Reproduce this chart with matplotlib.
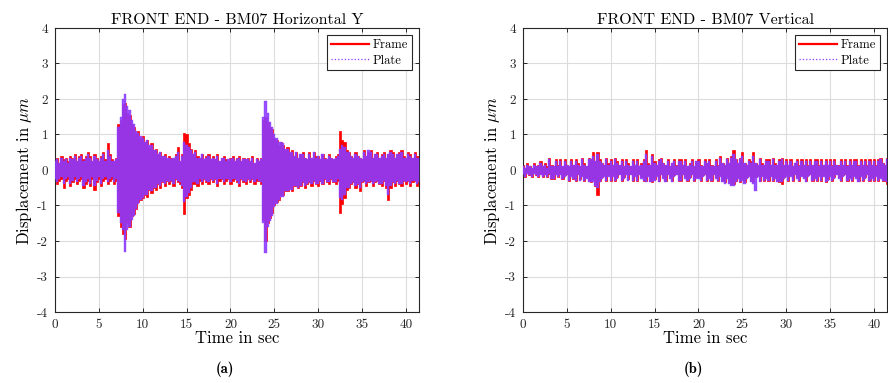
import numpy as np
import matplotlib
matplotlib.use("Agg")
import matplotlib.pyplot as plt
from matplotlib.lines import Line2D

plt.rcParams["font.family"] = "serif"
plt.rcParams["font.serif"] = ["cmr10", "DejaVu Serif"]
plt.rcParams["mathtext.fontset"] = "cm"
plt.rcParams["axes.unicode_minus"] = False
plt.rcParams["axes.formatter.use_mathtext"] = False

# envelope of the dense signal, every 0.25 s
dt = 0.25

# (a) Horizontal Y
frame_a_top = [
    0.3, 0.35, 0.2, 0.4, 0.3, 0.35, 0.25, 0.4,
    0.35, 0.45, 0.25, 0.4, 0.45, 0.3, 0.4, 0.5,
    0.4, 0.25, 0.45, 0.35, 0.25, 0.4, 0.5, 0.3,
    0.75, 0.45, 0.3, 0.25, 0.35, 1.3, 1.4, 1.85,
    1.9, 1.6, 1.55, 1.3, 1.2, 1.05, 1.1, 0.9,
    0.95, 0.8, 0.85, 0.65, 0.75, 0.55, 0.6, 0.45,
    0.5, 0.4, 0.45, 0.3, 0.4, 0.35, 0.3, 0.45,
    0.65, 0.25, 0.45, 1.05, 1.0, 0.75, 0.6, 0.45,
    0.55, 0.4, 0.35, 0.45, 0.3, 0.4, 0.45, 0.3,
    0.4, 0.3, 0.45, 0.25, 0.35, 0.4, 0.3, 0.25,
    0.35, 0.4, 0.25, 0.35, 0.4, 0.25, 0.35, 0.3,
    0.35, 0.25, 0.4, 0.2, 0.35, 0.25, 0.35, 1.4,
    1.5, 1.35, 1.2, 1.15, 0.9, 0.85, 0.7, 0.8,
    0.7, 0.55, 0.65, 0.5, 0.55, 0.4, 0.5, 0.35,
    0.45, 0.5, 0.35, 0.3, 0.5, 0.35, 0.5, 0.4,
    0.4, 0.3, 0.45, 0.35, 0.3, 0.45, 0.35, 0.3,
    0.4, 0.45, 1.1, 0.85, 0.8, 0.55, 0.5, 0.4,
    0.35, 0.5, 0.4, 0.35, 0.3, 0.55, 0.4, 0.5,
    0.55, 0.35, 0.45, 0.5, 0.35, 0.45, 0.5, 0.35,
    0.45, 0.55, 0.5, 0.35, 0.45, 0.5, 0.55, 0.4,
    0.35, 0.5, 0.45, 0.35, 0.5, 0.4, 0.4,
]
frame_a_bot = [
    -0.3, -0.4, -0.3, -0.25, -0.5, -0.3, -0.25, -0.45,
    -0.35, -0.25, -0.4, -0.3, -0.25, -0.5, -0.4, -0.3,
    -0.45, -0.25, -0.55, -0.35, -0.25, -0.45, -0.3, -0.25,
    -0.4, -0.3, -0.25, -0.4, -0.3, -1.3, -1.6, -1.8,
    -1.95, -1.5, -1.6, -1.3, -1.25, -1.1, -0.9, -0.85,
    -0.8, -0.7, -0.75, -0.55, -0.65, -0.5, -0.55, -0.4,
    -0.5, -0.35, -0.45, -0.3, -0.4, -0.3, -0.45, -0.25,
    -0.35, -0.4, -0.5, -1.25, -0.8, -0.7, -0.55, -0.4,
    -0.4, -0.45, -0.3, -0.4, -0.25, -0.35, -0.4, -0.25,
    -0.35, -0.25, -0.45, -0.3, -0.25, -0.4, -0.3, -0.25,
    -0.4, -0.3, -0.25, -0.35, -0.45, -0.25, -0.35, -0.4,
    -0.25, -0.35, -0.25, -0.4, -0.3, -0.3, -0.4, -1.4,
    -2.0, -1.5, -1.35, -1.2, -1.0, -0.9, -0.85, -0.7,
    -0.7, -0.6, -0.6, -0.5, -0.6, -0.45, -0.45, -0.5,
    -0.45, -0.35, -0.5, -0.4, -0.35, -0.45, -0.3, -0.4,
    -0.45, -0.3, -0.4, -0.25, -0.35, -0.4, -0.25, -0.35,
    -0.4, -0.3, -1.2, -0.95, -0.8, -0.55, -0.5, -0.4,
    -0.35, -0.5, -0.4, -0.6, -0.35, -0.3, -0.45, -0.35,
    -0.3, -0.45, -0.35, -0.3, -0.4, -0.45, -0.3, -0.5,
    -0.85, -0.5, -0.35, -0.45, -0.3, -0.4, -0.45, -0.3,
    -0.4, -0.3, -0.45, -0.35, -0.3, -0.45, -0.4,
]
plate_a_top = [
    0.25, 0.3, 0.2, 0.35, 0.25, 0.3, 0.2, 0.35,
    0.3, 0.4, 0.25, 0.35, 0.4, 0.25, 0.35, 0.45,
    0.35, 0.25, 0.4, 0.3, 0.25, 0.35, 0.45, 0.25,
    0.55, 0.4, 0.25, 0.25, 0.3, 1.2, 1.5, 2.0,
    2.15, 1.8, 1.7, 1.4, 1.3, 1.1, 1.05, 0.95,
    0.9, 0.8, 0.85, 0.7, 0.7, 0.55, 0.55, 0.45,
    0.5, 0.4, 0.4, 0.35, 0.35, 0.3, 0.35, 0.4,
    0.5, 0.25, 0.4, 0.8, 0.7, 0.65, 0.55, 0.45,
    0.5, 0.35, 0.35, 0.45, 0.3, 0.35, 0.4, 0.3,
    0.35, 0.3, 0.4, 0.25, 0.35, 0.35, 0.25, 0.3,
    0.3, 0.35, 0.25, 0.3, 0.35, 0.25, 0.3, 0.3,
    0.3, 0.25, 0.35, 0.2, 0.3, 0.25, 0.3, 1.5,
    1.95, 1.6, 1.35, 1.2, 1.0, 0.9, 0.8, 0.8,
    0.75, 0.6, 0.6, 0.5, 0.5, 0.4, 0.5, 0.35,
    0.45, 0.45, 0.35, 0.3, 0.45, 0.35, 0.5, 0.35,
    0.4, 0.3, 0.45, 0.3, 0.3, 0.4, 0.35, 0.3,
    0.35, 0.4, 0.6, 0.7, 0.65, 0.5, 0.5, 0.4,
    0.35, 0.45, 0.4, 0.35, 0.3, 0.5, 0.4, 0.55,
    0.5, 0.35, 0.45, 0.45, 0.35, 0.4, 0.45, 0.35,
    0.45, 0.5, 0.45, 0.35, 0.45, 0.45, 0.5, 0.35,
    0.35, 0.45, 0.4, 0.35, 0.45, 0.35, 0.35,
]
plate_a_bot = [
    -0.25, -0.35, -0.25, -0.2, -0.4, -0.25, -0.2, -0.4,
    -0.3, -0.2, -0.35, -0.25, -0.2, -0.45, -0.35, -0.25,
    -0.4, -0.2, -0.45, -0.3, -0.2, -0.4, -0.25, -0.2,
    -0.35, -0.25, -0.2, -0.35, -0.25, -1.2, -1.5, -1.7,
    -2.3, -1.7, -1.6, -1.4, -1.3, -1.1, -0.95, -0.85,
    -0.8, -0.7, -0.7, -0.55, -0.6, -0.5, -0.5, -0.4,
    -0.45, -0.35, -0.4, -0.3, -0.35, -0.3, -0.4, -0.25,
    -0.3, -0.35, -0.45, -0.9, -0.75, -0.65, -0.5, -0.35,
    -0.35, -0.4, -0.25, -0.35, -0.25, -0.3, -0.35, -0.25,
    -0.3, -0.25, -0.4, -0.25, -0.25, -0.35, -0.25, -0.25,
    -0.35, -0.25, -0.25, -0.3, -0.4, -0.25, -0.3, -0.35,
    -0.25, -0.3, -0.25, -0.35, -0.25, -0.3, -0.35, -1.5,
    -2.35, -1.6, -1.45, -1.3, -1.05, -0.95, -0.85, -0.75,
    -0.75, -0.6, -0.6, -0.55, -0.55, -0.45, -0.45, -0.5,
    -0.45, -0.35, -0.45, -0.4, -0.35, -0.4, -0.3, -0.4,
    -0.4, -0.3, -0.4, -0.25, -0.35, -0.35, -0.25, -0.35,
    -0.35, -0.25, -0.8, -0.85, -0.7, -0.5, -0.5, -0.4,
    -0.35, -0.45, -0.4, -0.5, -0.35, -0.3, -0.4, -0.35,
    -0.3, -0.4, -0.35, -0.3, -0.4, -0.4, -0.3, -0.45,
    -0.7, -0.45, -0.35, -0.4, -0.3, -0.4, -0.4, -0.3,
    -0.35, -0.3, -0.4, -0.3, -0.3, -0.4, -0.35,
]

# (b) Vertical
frame_b_top = [
    0.15, 0.05, 0.2, 0.1, 0.05, 0.2, 0.1, 0.15,
    0.25, 0.1, 0.2, 0.1, 0.35, 0.15, 0.1, 0.3,
    0.15, 0.3, 0.1, 0.3, 0.15, 0.1, 0.3, 0.15,
    0.3, 0.2, 0.1, 0.35, 0.2, 0.1, 0.35, 0.3,
    0.5, 0.25, 0.5, 0.3, 0.2, 0.15, 0.35, 0.2,
    0.3, 0.15, 0.35, 0.25, 0.15, 0.3, 0.1, 0.3,
    0.2, 0.1, 0.3, 0.15, 0.3, 0.1, 0.2, 0.3,
    0.55, 0.2, 0.15, 0.45, 0.25, 0.15, 0.3, 0.35,
    0.2, 0.15, 0.3, 0.1, 0.2, 0.3, 0.15, 0.3,
    0.3, 0.15, 0.3, 0.1, 0.2, 0.3, 0.1, 0.25,
    0.3, 0.15, 0.1, 0.3, 0.2, 0.3, 0.15, 0.1,
    0.3, 0.15, 0.4, 0.2, 0.15, 0.35, 0.2, 0.4,
    0.55, 0.3, 0.2, 0.35, 0.5, 0.2, 0.15, 0.3,
    0.25, 0.5, 0.2, 0.15, 0.35, 0.2, 0.15, 0.3,
    0.3, 0.15, 0.35, 0.2, 0.15, 0.3, 0.35, 0.15,
    0.3, 0.15, 0.3, 0.1, 0.2, 0.3, 0.15, 0.3,
    0.15, 0.3, 0.15, 0.3, 0.15, 0.3, 0.3, 0.15,
    0.3, 0.15, 0.3, 0.15, 0.3, 0.15, 0.3, 0.15,
    0.15, 0.3, 0.15, 0.3, 0.15, 0.3, 0.15, 0.3,
    0.3, 0.15, 0.3, 0.15, 0.3, 0.15, 0.3, 0.15,
    0.3, 0.15, 0.3, 0.35, 0.2, 0.15, 0.35,
]
frame_b_bot = [
    -0.1, -0.2, -0.05, -0.15, -0.2, -0.05, -0.15, -0.2,
    -0.1, -0.2, -0.1, -0.2, -0.1, -0.25, -0.25, -0.1,
    -0.2, -0.1, -0.25, -0.15, -0.1, -0.3, -0.15, -0.25,
    -0.3, -0.1, -0.25, -0.15, -0.3, -0.2, -0.3, -0.35,
    -0.25, -0.45, -0.7, -0.3, -0.2, -0.15, -0.3, -0.15,
    -0.3, -0.15, -0.3, -0.2, -0.1, -0.3, -0.2, -0.1,
    -0.25, -0.1, -0.3, -0.15, -0.3, -0.1, -0.2, -0.3,
    -0.3, -0.15, -0.3, -0.35, -0.25, -0.15, -0.3, -0.1,
    -0.2, -0.3, -0.1, -0.2, -0.3, -0.15, -0.1, -0.3,
    -0.3, -0.1, -0.2, -0.3, -0.2, -0.1, -0.3, -0.2,
    -0.2, -0.3, -0.15, -0.1, -0.3, -0.2, -0.3, -0.1,
    -0.2, -0.3, -0.15, -0.3, -0.35, -0.2, -0.35, -0.4,
    -0.4, -0.3, -0.2, -0.35, -0.25, -0.35, -0.2, -0.15,
    -0.3, -0.35, -0.2, -0.15, -0.3, -0.15, -0.3, -0.2,
    -0.3, -0.15, -0.3, -0.2, -0.3, -0.35, -0.4, -0.2,
    -0.15, -0.3, -0.15, -0.3, -0.1, -0.2, -0.3, -0.15,
    -0.2, -0.3, -0.15, -0.1, -0.3, -0.2, -0.3, -0.15,
    -0.3, -0.15, -0.35, -0.25, -0.15, -0.3, -0.2, -0.1,
    -0.2, -0.3, -0.15, -0.1, -0.3, -0.2, -0.3, -0.15,
    -0.2, -0.3, -0.15, -0.3, -0.2, -0.1, -0.3, -0.2,
    -0.3, -0.15, -0.3, -0.2, -0.3, -0.3, -0.4,
]
plate_b_top = [
    0.1, 0.05, 0.15, 0.1, 0.05, 0.15, 0.1, 0.1,
    0.2, 0.1, 0.15, 0.05, 0.3, 0.1, 0.1, 0.25,
    0.1, 0.25, 0.1, 0.25, 0.15, 0.1, 0.25, 0.15,
    0.25, 0.15, 0.1, 0.3, 0.15, 0.1, 0.3, 0.3,
    0.4, 0.25, 0.45, 0.25, 0.2, 0.15, 0.3, 0.15,
    0.25, 0.15, 0.3, 0.2, 0.15, 0.25, 0.1, 0.25,
    0.15, 0.1, 0.25, 0.15, 0.25, 0.1, 0.15, 0.25,
    0.45, 0.15, 0.15, 0.4, 0.2, 0.15, 0.25, 0.3,
    0.2, 0.15, 0.25, 0.1, 0.2, 0.25, 0.1, 0.25,
    0.25, 0.15, 0.25, 0.1, 0.15, 0.25, 0.1, 0.25,
    0.25, 0.1, 0.1, 0.25, 0.2, 0.25, 0.1, 0.1,
    0.25, 0.1, 0.35, 0.2, 0.15, 0.3, 0.2, 0.35,
    0.45, 0.3, 0.2, 0.3, 0.4, 0.2, 0.15, 0.25,
    0.2, 0.4, 0.2, 0.15, 0.3, 0.15, 0.15, 0.25,
    0.25, 0.15, 0.3, 0.15, 0.15, 0.25, 0.3, 0.15,
    0.25, 0.15, 0.25, 0.1, 0.2, 0.25, 0.1, 0.25,
    0.15, 0.25, 0.1, 0.25, 0.15, 0.25, 0.25, 0.1,
    0.25, 0.15, 0.25, 0.15, 0.25, 0.1, 0.25, 0.15,
    0.1, 0.25, 0.15, 0.25, 0.1, 0.25, 0.15, 0.25,
    0.25, 0.1, 0.25, 0.15, 0.25, 0.1, 0.25, 0.15,
    0.25, 0.1, 0.25, 0.3, 0.2, 0.15, 0.3,
]
plate_b_bot = [
    -0.1, -0.2, -0.1, -0.15, -0.2, -0.1, -0.15, -0.2,
    -0.15, -0.2, -0.15, -0.2, -0.1, -0.25, -0.25, -0.15,
    -0.2, -0.15, -0.25, -0.2, -0.15, -0.3, -0.2, -0.25,
    -0.3, -0.15, -0.3, -0.2, -0.3, -0.25, -0.35, -0.35,
    -0.35, -0.45, -0.5, -0.35, -0.25, -0.2, -0.3, -0.2,
    -0.3, -0.2, -0.3, -0.25, -0.15, -0.3, -0.25, -0.15,
    -0.3, -0.15, -0.3, -0.2, -0.3, -0.15, -0.25, -0.3,
    -0.35, -0.2, -0.35, -0.35, -0.3, -0.2, -0.35, -0.15,
    -0.25, -0.35, -0.15, -0.25, -0.35, -0.2, -0.15, -0.3,
    -0.3, -0.15, -0.25, -0.3, -0.25, -0.15, -0.3, -0.25,
    -0.25, -0.3, -0.2, -0.15, -0.3, -0.25, -0.3, -0.15,
    -0.25, -0.3, -0.2, -0.35, -0.4, -0.25, -0.4, -0.45,
    -0.45, -0.35, -0.25, -0.35, -0.3, -0.4, -0.25, -0.2,
    -0.35, -0.4, -0.6, -0.2, -0.35, -0.2, -0.3, -0.25,
    -0.3, -0.2, -0.3, -0.25, -0.35, -0.35, -0.35, -0.25,
    -0.2, -0.3, -0.2, -0.3, -0.15, -0.25, -0.3, -0.2,
    -0.25, -0.35, -0.2, -0.15, -0.3, -0.25, -0.3, -0.2,
    -0.3, -0.2, -0.35, -0.3, -0.2, -0.3, -0.25, -0.15,
    -0.25, -0.3, -0.2, -0.15, -0.3, -0.25, -0.3, -0.2,
    -0.25, -0.35, -0.2, -0.3, -0.25, -0.15, -0.3, -0.25,
    -0.3, -0.2, -0.3, -0.25, -0.3, -0.3, -0.35,
]

titles = ["FRONT END - BM07 Horizontal Y", "FRONT END - BM07 Vertical"]
captions = ["(a)", "(b)"]
panels = [
    (frame_a_top, frame_a_bot, plate_a_top, plate_a_bot),
    (frame_b_top, frame_b_bot, plate_b_top, plate_b_bot),
]

RED = "#ff0000"
PURPLE = "#8c3cff"

fig = plt.figure(figsize=(8.88, 3.83), dpi=100)
lefts = [55 / 888, 523 / 888]
for i, (f_top, f_bot, p_top, p_bot) in enumerate(panels):
    ax = fig.add_axes([lefts[i], 71 / 383, 364 / 888, 284 / 383])
    t = np.arange(len(f_top)) * dt
    ax.fill_between(t, f_bot, f_top, step="mid", color=RED, lw=0.5,
                    zorder=2)
    ax.fill_between(t, p_bot, p_top, step="mid", facecolor=PURPLE,
                    edgecolor=PURPLE, lw=0.3, alpha=0.9, zorder=3)

    ax.set_xlim(0, 41.5)
    ax.set_ylim(-4, 4)
    ax.set_xticks(range(0, 45, 5))
    ax.set_yticks(range(-4, 5))
    ax.grid(True, color="#dcdcdc", lw=0.8)
    ax.set_axisbelow(True)
    ax.tick_params(direction="in", top=True, right=True, labelsize=9.5,
                   length=3, width=0.7, colors="#262626", pad=5)
    for s in ax.spines.values():
        s.set_color("#262626")
        s.set_linewidth(0.8)

    ax.set_title(titles[i], fontsize=11.5, pad=3)
    ax.set_xlabel("Time in sec", fontsize=12, labelpad=0)
    ax.set_ylabel(r"Displacement in $\mu m$", fontsize=12, labelpad=2)

    handles = [Line2D([], [], color=RED, lw=1.6),
               Line2D([], [], color=PURPLE, lw=0.9, ls=":")]
    leg = ax.legend(handles, ["Frame", "Plate"], loc="upper right",
                    fontsize=9, fancybox=False, edgecolor="#262626",
                    framealpha=1, borderpad=0.3, handlelength=3,
                    handletextpad=0.3, labelspacing=0.25, borderaxespad=0.6)
    leg.get_frame().set_linewidth(0.8)

    cx = lefts[i] + 364 / 888 / 2 - 0.013
    fig.text(cx, 6 / 383, captions[i], ha="center", va="bottom",
             fontsize=10.5, family="cmb10")

fig.savefig("out.png", dpi=100)
